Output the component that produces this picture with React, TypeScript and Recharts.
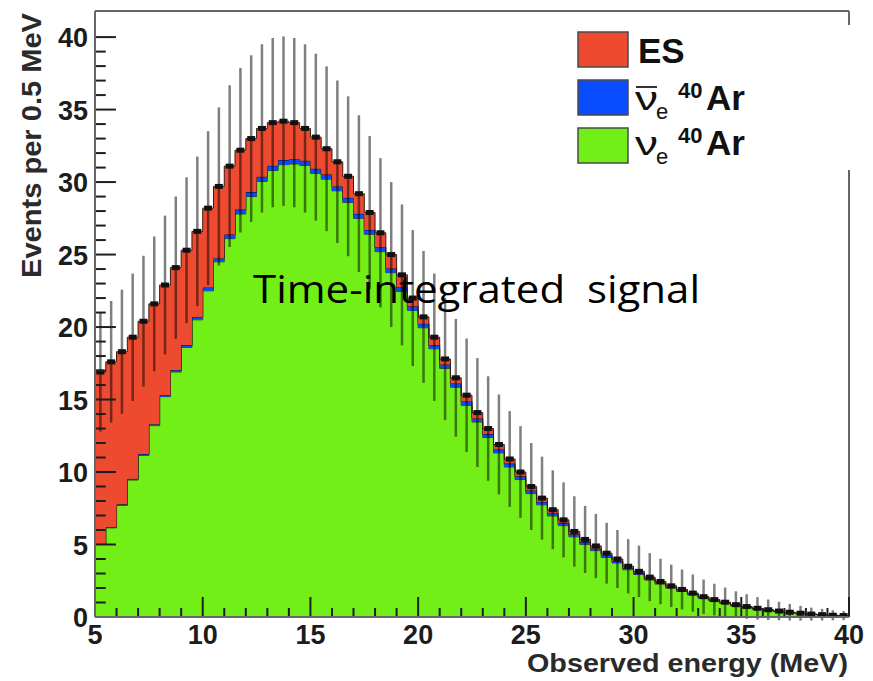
import {
  ComposedChart,
  Area,
  Scatter,
  ErrorBar,
  XAxis,
  YAxis,
  ReferenceLine,
  Legend,
} from "recharts";

// 70 bins of 0.5 MeV from 5 to 40 MeV (lower edges)
const BIN_LOW = Array.from({ length: 70 }, (_, i) => 5 + 0.5 * i);

// nu_e 40Ar (green)
const NUE = [
  5.0, 6.15, 7.7, 9.45, 11.15, 13.2, 15.2, 16.9, 18.6, 20.5,
  22.5, 24.5, 26.1, 27.8, 29.0, 30.05, 30.8, 31.2, 31.25, 31.15,
  30.6, 30.2, 29.4, 28.6, 27.5, 26.4, 25.2, 23.75, 22.45, 21.15,
  19.95, 18.5, 17.15, 15.85, 14.6, 13.45, 12.38, 11.32, 10.35, 9.48,
  8.51, 7.74, 6.97, 6.3, 5.53, 5.01, 4.58, 4.11, 3.73, 3.26,
  2.93, 2.55, 2.27, 1.99, 1.76, 1.53, 1.29, 1.1, 0.94, 0.77,
  0.66, 0.54, 0.46, 0.37, 0.29, 0.24, 0.18, 0.14, 0.1, 0.08,
];

// anti-nu_e 40Ar (blue)
const NUEBAR = [
  0.05, 0.06, 0.07, 0.08, 0.09, 0.1, 0.12, 0.14, 0.16, 0.2,
  0.22, 0.25, 0.28, 0.3, 0.31, 0.32, 0.32, 0.32, 0.32, 0.32,
  0.32, 0.32, 0.32, 0.31, 0.31, 0.3, 0.3, 0.29, 0.29, 0.28,
  0.28, 0.27, 0.27, 0.26, 0.26, 0.25, 0.24, 0.23, 0.23, 0.22,
  0.21, 0.2, 0.19, 0.18, 0.17, 0.16, 0.15, 0.14, 0.13, 0.12,
  0.11, 0.1, 0.09, 0.08, 0.07, 0.06, 0.06, 0.05, 0.04, 0.04,
  0.03, 0.03, 0.02, 0.02, 0.02, 0.01, 0.01, 0.01, 0.01, 0.01,
];

// ES (red)
const ES = [
  11.85, 11.39, 10.53, 9.77, 9.16, 8.3, 7.58, 7.06, 6.54, 5.9,
  5.48, 4.95, 4.72, 4.1, 3.69, 3.33, 2.98, 2.68, 2.53, 2.23,
  2.18, 1.78, 1.68, 1.49, 1.39, 1.2, 1.0, 0.96, 0.86, 0.57,
  0.47, 0.53, 0.38, 0.39, 0.44, 0.4, 0.38, 0.35, 0.32, 0.3,
  0.28, 0.26, 0.24, 0.22, 0.2, 0.18, 0.17, 0.15, 0.14, 0.12,
  0.11, 0.1, 0.09, 0.08, 0.07, 0.06, 0.05, 0.05, 0.04, 0.04,
  0.03, 0.03, 0.02, 0.02, 0.02, 0.01, 0.01, 0.01, 0.01, 0.01,
];

const X_LABELS = [5, 10, 15, 20, 25, 30, 35, 40];
const Y_LABELS = [0, 5, 10, 15, 20, 25, 30, 35, 40];
const X_TICKS = Array.from({ length: 36 }, (_, i) => 5 + i);
const Y_TICKS = Array.from({ length: 41 }, (_, i) => i);
const Y_MAX = 41.8;

const GREEN = "#72ef16";
const BLUE = "#0a4cff";
const RED = "#ee4a30";
const TICK = "#1e1e1e";

const W = 873;
const H = 681;
const PLOT = { left: 95, top: 11, right: 849, bottom: 617 };
const MARGIN = { top: PLOT.top, right: W - PLOT.right, bottom: 0, left: 0 };
const FONT = "'Liberation Sans', Arial, Helvetica, sans-serif";

// inward tick lengths, in axis units (ROOT style)
const X_TICK_LEN = { major: 1.38, minor: 0.62 }; // events
const Y_TICK_LEN = { major: 0.97, minor: 0.5 }; // MeV

// stepped histogram rows (lower edges + closing edge at 40)
const histRows = BIN_LOW.map((lo, i) => ({
  x: lo,
  nue: NUE[i],
  nuebar: NUEBAR[i],
  es: ES[i],
}));
histRows.push({ x: 40, nue: NUE[69], nuebar: NUEBAR[69], es: ES[69] });

// total at bin centres with Poisson error
const points = BIN_LOW.map((lo, i) => {
  const total = NUE[i] + NUEBAR[i] + ES[i];
  return { x: lo + 0.25, total, err: Math.sqrt(total) };
});

function XTick(props: any) {
  const { x, payload } = props;
  const v = payload.value;
  if (!X_LABELS.includes(v)) return <g />;
  return (
    <text
      x={x}
      y={644}
      textAnchor="middle"
      fontFamily={FONT}
      fontWeight="bold"
      fontSize={27}
      fill="#1c1c1c"
    >
      {v}
    </text>
  );
}

function YTick(props: any) {
  const { y, payload } = props;
  const v = payload.value;
  if (!Y_LABELS.includes(v)) return <g />;
  return (
    <text
      x={88}
      y={y + 10}
      textAnchor="end"
      fontFamily={FONT}
      fontWeight="bold"
      fontSize={27}
      fill="#1c1c1c"
    >
      {v}
    </text>
  );
}

function Marker(props: any) {
  const { cx, cy } = props;
  return <rect x={cx - 4} y={cy - 2.5} width={8} height={5} fill="#111" />;
}

function LegendBox() {
  const boxes = [
    { y: 7, fill: RED },
    { y: 55, fill: BLUE },
    { y: 103, fill: GREEN },
  ];
  return (
    <svg width={300} height={145} style={{ display: "block" }}>
      <rect x={0} y={0} width={300} height={145} fill="#fff" />
      {boxes.map((b) => (
        <rect
          key={b.fill}
          x={18}
          y={b.y}
          width={50}
          height={35}
          fill={b.fill}
          stroke="#4a4a4a"
          strokeWidth={1.5}
        />
      ))}
      <text x={78} y={38} fontFamily={FONT} fontWeight="bold" fontSize={35} fill="#111">
        ES
      </text>
      {[
        { base: 85, bar: true },
        { base: 130, bar: false },
      ].map((r) => (
        <g key={r.base} fontFamily={FONT} fill="#111">
          {r.bar && (
            <line x1={76} x2={97} y1={r.base - 23} y2={r.base - 23} stroke="#333" strokeWidth={2} />
          )}
          <text x={75} y={r.base} fontSize={34} textLength={23} lengthAdjust="spacingAndGlyphs">
            ν
          </text>
          <text x={96} y={r.base + 9} fontSize={22}>
            e
          </text>
          <text x={118} y={r.base - 12} fontSize={22} fontWeight="bold">
            40
          </text>
          <text x={146} y={r.base} fontSize={35} fontWeight="bold">
            Ar
          </text>
        </g>
      ))}
    </svg>
  );
}

export default function App() {
  return (
    <div style={{ position: "absolute", left: 0, top: 0, width: W, height: H, background: "#fff" }}>
      {/* stacked histogram, markers and error bars */}
      <div style={{ position: "absolute", left: 0, top: 0, zIndex: 1 }}>
        <ComposedChart width={W} height={H} margin={MARGIN}>
          <Area
            type="stepAfter"
            data={histRows}
            dataKey="nue"
            stackId="s"
            fill={GREEN}
            fillOpacity={1}
            stroke="#2b3a1a"
            strokeWidth={1}
            isAnimationActive={false}
            dot={false}
            activeDot={false}
          />
          <Area
            type="stepAfter"
            data={histRows}
            dataKey="nuebar"
            stackId="s"
            fill={BLUE}
            fillOpacity={1}
            stroke="#111"
            strokeWidth={1}
            isAnimationActive={false}
            dot={false}
            activeDot={false}
          />
          <Area
            type="stepAfter"
            data={histRows}
            dataKey="es"
            stackId="s"
            fill={RED}
            fillOpacity={1}
            stroke="#3a1a14"
            strokeWidth={1}
            isAnimationActive={false}
            dot={false}
            activeDot={false}
          />
          <Scatter data={points} dataKey="total" shape={<Marker />} isAnimationActive={false}>
            <ErrorBar
              dataKey="err"
              direction="y"
              width={0}
              stroke="#000"
              strokeOpacity={0.5}
              strokeWidth={2.5}
              isAnimationActive={false}
            />
          </Scatter>
          <XAxis
            type="number"
            dataKey="x"
            domain={[5, 40]}
            allowDataOverflow
            height={H - PLOT.bottom}
            tick={false}
            tickLine={false}
            axisLine={false}
          />
          <YAxis
            type="number"
            domain={[0, Y_MAX]}
            allowDataOverflow
            width={PLOT.left}
            tick={false}
            tickLine={false}
            axisLine={false}
          />
        </ComposedChart>
      </div>

      {/* frame, inward ticks and legend drawn above the histogram */}
      <div style={{ position: "absolute", left: 0, top: 0, zIndex: 2 }}>
        <ComposedChart width={W} height={H} margin={MARGIN} data={histRows}>
          <ReferenceLine y={Y_MAX} stroke="#666" strokeWidth={2} />
          <ReferenceLine x={40} stroke="#666" strokeWidth={2} />
          {X_TICKS.map((v) => (
            <ReferenceLine
              key={`xt${v}`}
              segment={[
                { x: v, y: 0 },
                { x: v, y: X_LABELS.includes(v) ? X_TICK_LEN.major : X_TICK_LEN.minor },
              ]}
              stroke={TICK}
              strokeWidth={2}
            />
          ))}
          {Y_TICKS.map((v) => (
            <ReferenceLine
              key={`yt${v}`}
              segment={[
                { x: 5, y: v },
                { x: 5 + (Y_LABELS.includes(v) ? Y_TICK_LEN.major : Y_TICK_LEN.minor), y: v },
              ]}
              stroke={TICK}
              strokeWidth={2}
            />
          ))}
          <XAxis
            type="number"
            dataKey="x"
            domain={[5, 40]}
            ticks={X_TICKS}
            interval={0}
            allowDataOverflow
            height={H - PLOT.bottom}
            tick={<XTick />}
            tickLine={false}
            axisLine={{ stroke: "#666", strokeWidth: 2 }}
          />
          <YAxis
            type="number"
            domain={[0, Y_MAX]}
            ticks={Y_TICKS}
            interval={0}
            allowDataOverflow
            width={PLOT.left}
            tick={<YTick />}
            tickLine={false}
            axisLine={{ stroke: "#666", strokeWidth: 2 }}
          />
          <Legend
            layout="horizontal"
            verticalAlign="middle"
            align="center"
            content={() => <LegendBox />}
            wrapperStyle={{ left: 560, top: 25, width: 300, height: 145 }}
          />
          <text
            transform="rotate(-90)"
            x={-278}
            y={41}
            textLength={265}
            lengthAdjust="spacingAndGlyphs"
            fontFamily={FONT}
            fontWeight="bold"
            fontSize={27}
            fill="#2a2a2a"
          >
            Events per 0.5 MeV
          </text>
          <text
            x={848}
            y={672}
            textAnchor="end"
            textLength={321}
            lengthAdjust="spacingAndGlyphs"
            fontFamily={FONT}
            fontWeight="bold"
            fontSize={25}
            fill="#2a2a2a"
          >
            Observed energy (MeV)
          </text>
        </ComposedChart>
      </div>

      <svg
        width={W}
        height={H}
        style={{ position: "absolute", left: 0, top: 0, zIndex: 3, pointerEvents: "none" }}
      >
        <text
          x={253}
          y={303}
          textLength={447}
          lengthAdjust="spacingAndGlyphs"
          fontFamily="'Open Sans', 'Noto Sans', sans-serif"
          fontSize={38}
          fill="#000"
          style={{ whiteSpace: "pre" }}
        >
          {"Time-integrated  signal"}
        </text>
      </svg>
    </div>
  );
}
